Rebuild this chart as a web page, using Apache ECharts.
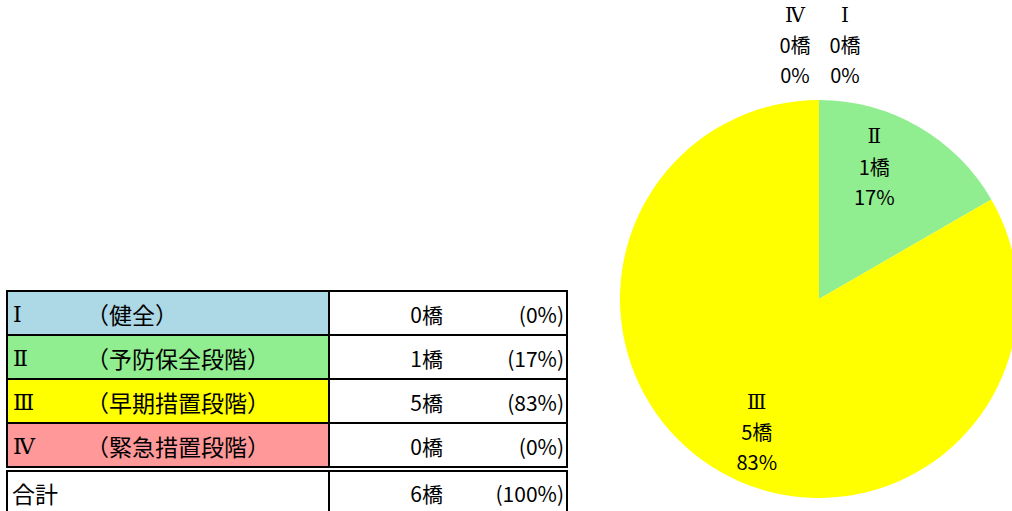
<!DOCTYPE html>
<html>
<head>
<meta charset="utf-8">
<script src="https://cdn.jsdelivr.net/npm/echarts@6/dist/echarts.min.js"></script>
<style>
  html, body { margin: 0; padding: 0; background: #fff; }
  #main { width: 1012px; height: 511px; }
</style>
</head>
<body>
<div id="main"></div>
<script>
// 健全度区分ごとの橋梁数
var ranks = ['Ⅰ', 'Ⅱ', 'Ⅲ', 'Ⅳ'];
var stages = ['（健全）', '（予防保全段階）', '（早期措置段階）', '（緊急措置段階）'];
var counts = [0, 1, 5, 0];
var colors = ['#ADD8E6', '#90EE90', '#FFFF00', '#FF9999'];
var totalLabel = '合計';

var FONT = '"Noto Sans CJK JP", "Noto Sans", sans-serif';
var SERIF = '"DejaVu Serif", "Noto Sans CJK JP", serif';
var total = counts.reduce(function (a, b) { return a + b; }, 0);
function pct(v) { return total ? Math.round(v / total * 100) : 0; }

// ラベル位置の微調整（Excelの配置に合わせる）
var labelOffsets = [[26, -152], [4, -44], [-11, 44], [-24, -152]];

var pieData = ranks.map(function (r, i) {
  return {
    name: r,
    value: counts[i],
    itemStyle: { color: colors[i] },
    label: { offset: labelOffsets[i] }
  };
});

// 表（左側）
var graphics = [];
var x0 = 7, xMid = 329, x1 = 567, top0 = 291, rowH = 44;
function txt(x, y, s, align, font) {
  return { type: 'text', x: x, y: y, style: { text: s, font: font || ('21px ' + FONT), fill: '#000', textAlign: align, textVerticalAlign: 'middle' } };
}
for (var i = 0; i < ranks.length; i++) {
  var y = top0 + i * rowH;
  graphics.push({
    type: 'rect', shape: { x: x0, y: y, width: xMid - x0, height: rowH },
    style: { fill: colors[i], stroke: '#000', lineWidth: 2 }
  });
  graphics.push({
    type: 'rect', shape: { x: xMid, y: y, width: x1 - xMid, height: rowH },
    style: { fill: '#fff', stroke: '#000', lineWidth: 2 }
  });
  var cy = y + rowH / 2 + 1;
  graphics.push(txt(13, cy, ranks[i], 'left', '22px ' + SERIF));
  graphics.push(txt(86, cy, stages[i], 'left', '23px ' + FONT));
  graphics.push(txt(443, cy, counts[i] + '橋', 'right'));
  graphics.push(txt(564, cy, '(' + pct(counts[i]) + '%)', 'right'));
}
var ty = top0 + ranks.length * rowH + 4;
graphics.push({
  type: 'rect', shape: { x: x0, y: ty, width: xMid - x0, height: 50 },
  style: { fill: '#fff', stroke: '#000', lineWidth: 2 }
});
graphics.push({
  type: 'rect', shape: { x: xMid, y: ty, width: x1 - xMid, height: 50 },
  style: { fill: '#fff', stroke: '#000', lineWidth: 2 }
});
var tcy = ty + 22;
graphics.push(txt(12, tcy, totalLabel, 'left', '23px ' + FONT));
graphics.push(txt(443, tcy, total + '橋', 'right'));
graphics.push(txt(564, tcy, '(' + pct(total) + '%)', 'right'));

var myChart = echarts.init(document.getElementById('main'), null, { renderer: 'svg' });
var option = {
  backgroundColor: '#fff',
  animation: false,
  graphic: graphics,
  series: [
    {
      type: 'pie',
      center: [819, 299],
      radius: 199,
      startAngle: 90,
      clockwise: true,
      avoidLabelOverlap: false,
      itemStyle: { borderWidth: 0 },
      label: {
        show: true,
        position: 'inside',
        color: '#000',
        fontFamily: FONT,
        fontSize: 20,
        lineHeight: 30,
        align: 'center',
        formatter: function (p) {
          return '{r|' + p.name + '}\n' + p.value + '橋\n' + pct(p.value) + '%';
        },
        rich: {
          r: { fontFamily: SERIF, fontSize: 20, lineHeight: 30, color: '#000' }
        }
      },
      labelLine: { show: false },
      emphasis: { disabled: true },
      data: pieData
    }
  ]
};
myChart.setOption(option);
</script>
</body>
</html>
